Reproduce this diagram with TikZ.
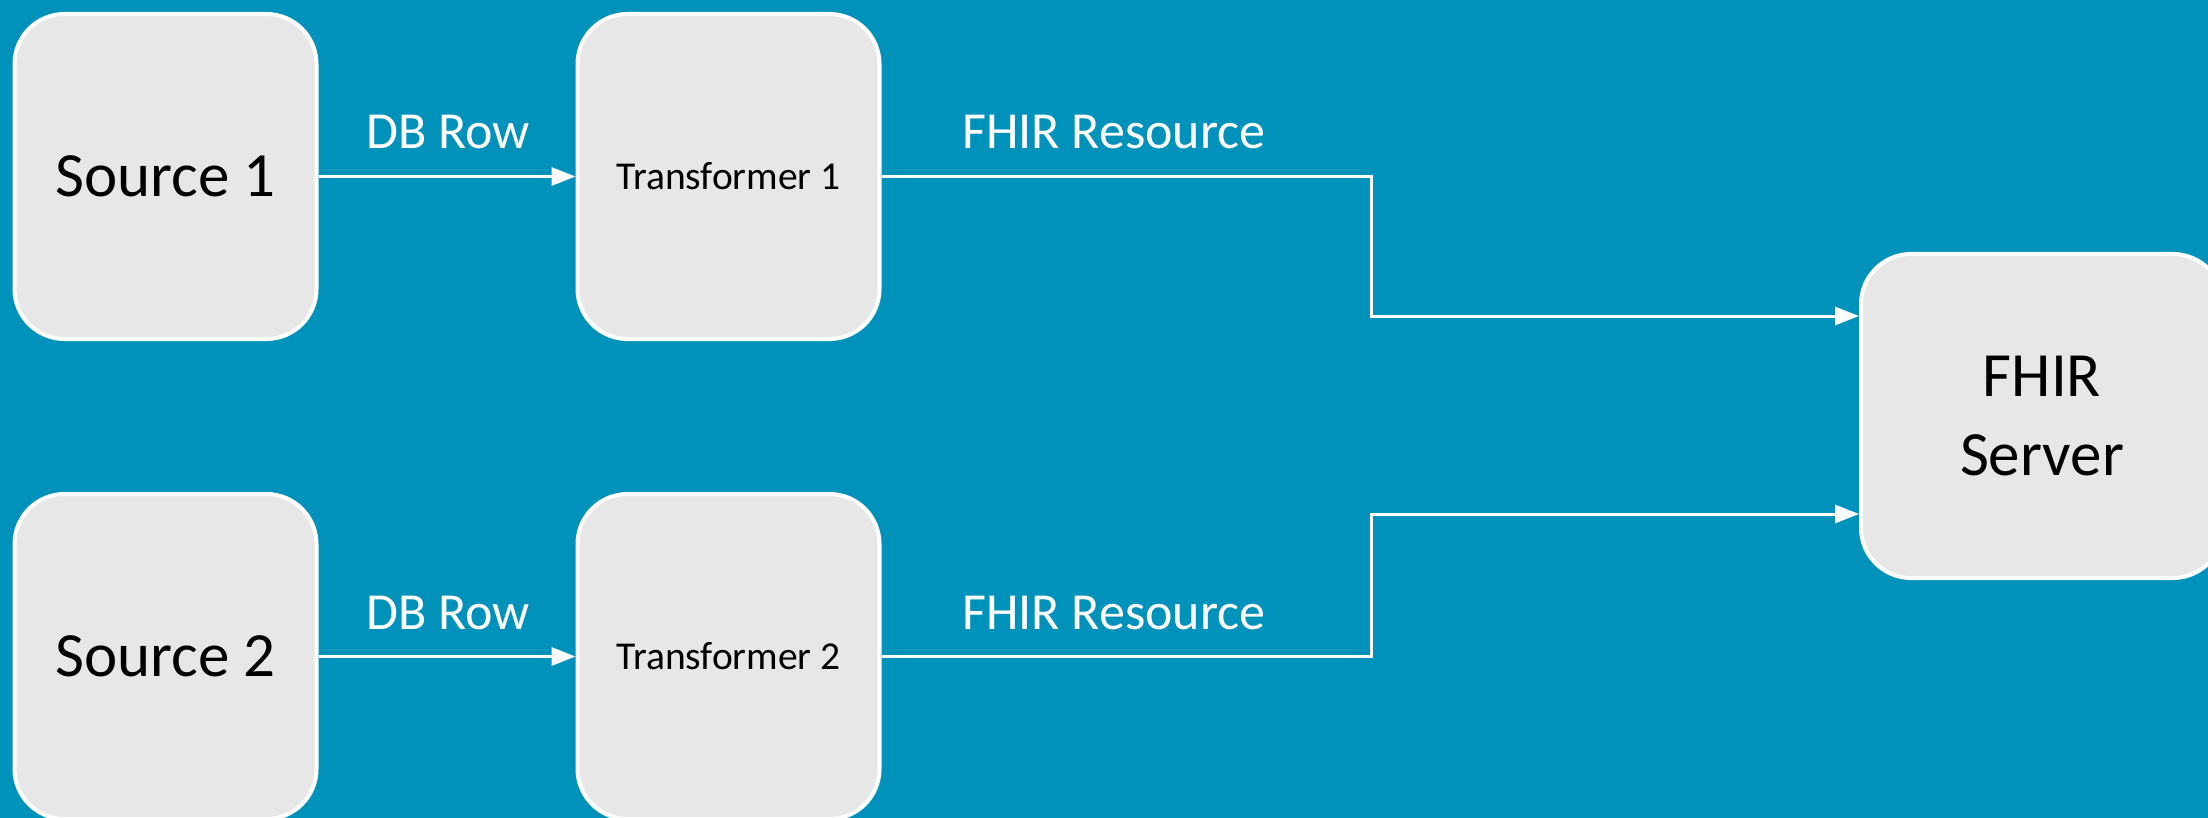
\documentclass[tikz,border=0pt]{standalone}
\usepackage{fontspec}
\setmainfont{Carlito}
\usetikzlibrary{arrows.meta}
\definecolor{bgblue}{RGB}{0,146,186}
\definecolor{boxgray}{RGB}{231,231,231}
\begin{document}
\begin{tikzpicture}[x=1pt,y=-1pt,
  box/.style={draw=white,line width=4pt,fill=boxgray,rounded corners=50pt,
    inner sep=0pt,text=black,align=center},
  srcbox/.style={box,minimum width=302pt,minimum height=325pt,font=\fontsize{63}{79}\selectfont},
  trbox/.style={box,minimum width=302pt,minimum height=325pt,font=\fontsize{39.5}{48}\selectfont},
  srvbox/.style={box,minimum width=362pt,minimum height=324pt,font=\fontsize{63}{79}\selectfont},
  lbl/.style={text=white,anchor=base,inner sep=0pt,font=\fontsize{52}{62}\selectfont},
  arr/.style={draw=white,line width=3pt,-{Triangle[length=24pt,width=18pt]}},
  lin/.style={draw=white,line width=3pt}]
\useasboundingbox (0,0) rectangle (2208,818);
\fill[bgblue] (0,0) rectangle (2208,818);
\clip (0,0) rectangle (2208,818);
\node[srcbox] (s1) at (165.5,176.5) {Source 1};
\node[trbox] (t1) at (728.5,176.5) {Transformer 1};
\node[srcbox] (s2) at (165.5,656.5) {Source 2};
\node[trbox] (t2) at (728.5,656.5) {Transformer 2};
\node[srvbox] (srv) at (2042,416) {FHIR\\Server};
\node[lbl] (l1) at (448,149) {DB Row};
\node[lbl] (l2) at (448,629) {DB Row};
\node[lbl] (l3) at (1114,149) {FHIR Resource};
\node[lbl] (l4) at (1114,629) {FHIR Resource};
\coordinate (e1) at (1371,176.5);
\coordinate (e2) at (1371,656.5);
\coordinate (y1) at (0,316);
\coordinate (y2) at (0,514);
\draw[arr] (s1.east) -- (t1.west);
\draw[arr] (s2.east) -- (t2.west);
\draw[arr] (t1.east) -- (e1) |- (srv.west |- y1);
\draw[arr] (t2.east) -- (e2) |- (srv.west |- y2);
\end{tikzpicture}
\end{document}
